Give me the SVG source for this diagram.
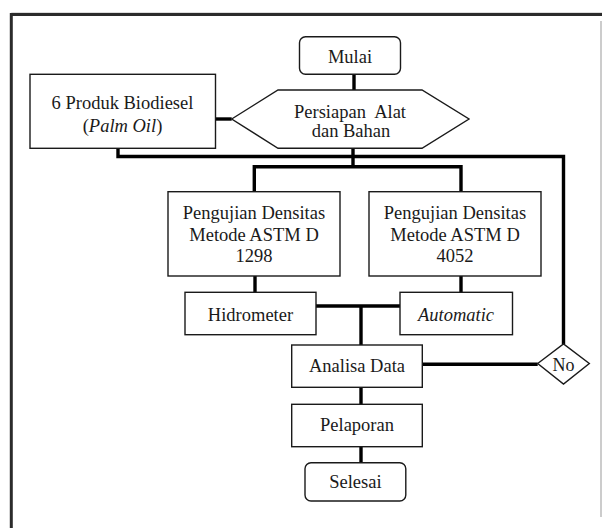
<svg xmlns="http://www.w3.org/2000/svg" width="602" height="528" viewBox="0 0 602 528">
<style>
.box{fill:#fff;stroke:#1a1a1a;stroke-width:1.4}
.t{font-family:"Liberation Serif","Times New Roman",serif;font-size:18.5px;fill:#1a1a1a;text-anchor:middle}
.i{font-style:italic}
.c{fill:none;stroke:#000;stroke-width:3.4;stroke-linecap:butt;stroke-linejoin:miter}
</style>
<rect width="602" height="528" fill="#fff"/>
<g id="frame">
<line x1="11.3" y1="13" x2="602" y2="13" stroke="#bbb" stroke-width="1"/>
<line x1="11.3" y1="14.5" x2="602" y2="14.5" stroke="#2b2b2b" stroke-width="3"/>
<line x1="11.3" y1="13" x2="11.3" y2="528" stroke="#2b2b2b" stroke-width="3"/>
<line x1="601" y1="21" x2="601" y2="517" stroke="#999" stroke-width="1"/>
</g>
<g id="connectors">
<polyline class="c" points="354,74.3 354,90"/>
<polyline class="c" points="215.5,119 231.7,119"/>
<polyline class="c" points="118,148.3 118,156.5 563.5,156.5 563.5,344"/>
<polyline class="c" points="353,148.3 353,166.8"/>
<polyline class="c" points="254.3,191.7 254.3,166.8 461,166.8 461,191.7"/>
<polyline class="c" points="255,276 255,292.3"/>
<polyline class="c" points="461,276 461,292.3"/>
<polyline class="c" points="316,306 400,306"/>
<polyline class="c" points="361,306 361,345"/>
<polyline class="c" points="422.3,364.3 537.7,364.3"/>
<polyline class="c" points="361,387.3 361,404.3"/>
<polyline class="c" points="361,446.7 361,462.7"/>
</g>
<g id="mulai">
<rect class="box" x="299.5" y="36.7" width="101" height="37.6" rx="6"/>
<text class="t" x="350" y="63.3">Mulai</text>
</g>
<g id="biodiesel">
<rect class="box" x="30" y="74.3" width="185.5" height="74"/>
<text class="t" x="122.5" y="108.5">6 Produk Biodiesel</text>
<text class="t" x="122.5" y="131.5">(<tspan class="i">Palm Oil</tspan>)</text>
</g>
<g id="persiapan">
<polygon class="box" points="231.7,119 278,90 422,90 469,119 422,148.3 278,148.3"/>
<text class="t" x="350" y="117.5" xml:space="preserve">Persiapan  Alat</text>
<text class="t" x="351" y="137">dan Bahan</text>
</g>
<g id="astm1298">
<rect class="box" x="168" y="191.7" width="172" height="84.3"/>
<text class="t" x="254" y="219.3">Pengujian Densitas</text>
<text class="t" x="254" y="241">Metode ASTM D</text>
<text class="t" x="254" y="261.5">1298</text>
</g>
<g id="astm4052">
<rect class="box" x="369" y="191.7" width="172" height="84.3"/>
<text class="t" x="455" y="219.3">Pengujian Densitas</text>
<text class="t" x="455" y="241">Metode ASTM D</text>
<text class="t" x="455" y="261.5">4052</text>
</g>
<g id="hidrometer">
<rect class="box" x="185" y="292.3" width="131" height="42.4"/>
<text class="t" x="250.5" y="320.7">Hidrometer</text>
</g>
<g id="automatic">
<rect class="box" x="400" y="292.3" width="112.5" height="42.4"/>
<text class="t i" x="456" y="320.7">Automatic</text>
</g>
<g id="analisa">
<rect class="box" x="291.7" y="345" width="130.6" height="42.3"/>
<text class="t" x="357" y="372.3">Analisa Data</text>
</g>
<g id="no">
<polygon class="box" points="537.7,363.5 563.5,344 589.3,363.5 563.5,384"/>
<text class="t" x="563.5" y="370.5" style="font-size:18px">No</text>
</g>
<g id="pelaporan">
<rect class="box" x="291.7" y="404.3" width="130.6" height="42.4"/>
<text class="t" x="357" y="431">Pelaporan</text>
</g>
<g id="selesai">
<rect class="box" x="305" y="462.7" width="100.8" height="38.3" rx="6"/>
<text class="t" x="355.4" y="488.3">Selesai</text>
</g>
</svg>
